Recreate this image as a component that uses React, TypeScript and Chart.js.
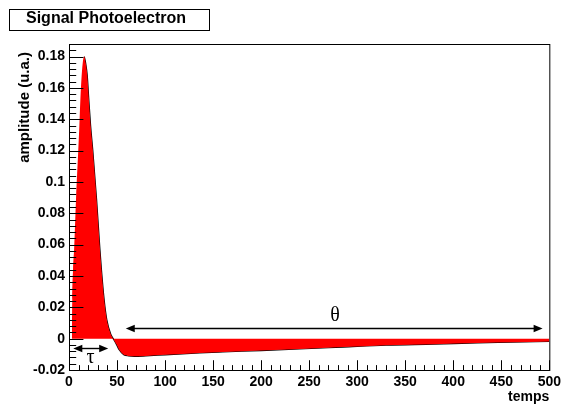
import React, { useEffect, useRef } from "react";
import { Chart, registerables } from "chart.js";

Chart.register(...registerables);

// ---- data ----
const TITLE = "Signal Photoelectron";
const X_TITLE = "temps";
const Y_TITLE = "amplitude (u.a.)";

const timeValues = [
  3, 3.4, 4.2, 5.4, 7.3, 9.7, 10.8, 11.8, 13.2, 14.5, 15.9, 17.3, 19.0, 20.7,
  22.5, 24.8, 28.7, 32.2, 33.8, 36.6, 39.4, 43.6, 46, 49.5, 52.2, 57, 62, 68,
  80, 100, 136, 160, 200, 240, 285, 330, 380, 425, 460, 500,
];
const amplitudeValues = [
  0, 0.025, 0.044, 0.058, 0.089, 0.121, 0.136, 0.152, 0.168, 0.177, 0.18,
  0.176, 0.168, 0.152, 0.136, 0.12, 0.089, 0.057, 0.044, 0.025, 0.012, 0.0026,
  0, -0.0038, -0.007, -0.0102, -0.011, -0.0113, -0.011, -0.0103, -0.0091,
  -0.0085, -0.0076, -0.0066, -0.0054, -0.0042, -0.0035, -0.0027, -0.0023,
  -0.0018,
];
const PEAK_TIME = 15.9;

const X_MIN = 0;
const X_MAX = 500;
const X_STEP = 50;
const Y_MIN = -0.02;
const Y_MAX = 0.188;
const Y_STEP = 0.02;

// annotations (data coordinates)
const tauArrow = { from: 4.5, to: 40.8, y: -0.0057 };
const tauLabel = { text: "τ", x: 22.5, y: -0.0157 };
const thetaArrow = { from: 59.1, to: 493, y: 0.0069 };
const thetaLabel = { text: "θ", x: 277, y: 0.011 };

const SANS = '"Liberation Sans", Arial, Helvetica, sans-serif';
const SERIF = '"Liberation Serif", "Times New Roman", serif';

function drawArrow(ctx: CanvasRenderingContext2D, x1: number, x2: number, y: number) {
  const head = 9;
  const half = 3.8;
  ctx.beginPath();
  ctx.moveTo(x1 + head - 1, y);
  ctx.lineTo(x2 - head + 1, y);
  ctx.lineWidth = 1.4;
  ctx.strokeStyle = "#000";
  ctx.stroke();
  ctx.fillStyle = "#000";
  ctx.beginPath();
  ctx.moveTo(x1, y);
  ctx.lineTo(x1 + head, y - half);
  ctx.lineTo(x1 + head, y + half);
  ctx.closePath();
  ctx.fill();
  ctx.beginPath();
  ctx.moveTo(x2, y);
  ctx.lineTo(x2 - head, y - half);
  ctx.lineTo(x2 - head, y + half);
  ctx.closePath();
  ctx.fill();
}

const rootStylePlugin = {
  id: "rootStyle",
  afterDraw(chart: any) {
    const ctx: CanvasRenderingContext2D = chart.ctx;
    const xs = chart.scales.x;
    const ys = chart.scales.y;
    const a = chart.chartArea;
    ctx.save();

    // ticks (inside the frame, ROOT style)
    ctx.strokeStyle = "#000";
    ctx.lineWidth = 1;
    const yMajor = 0.03 * (a.right - a.left);
    const xMajor = 0.03 * (a.bottom - a.top);
    const yMinorStep = Y_STEP / 5;
    const ny = Math.floor((Y_MAX - Y_MIN) / yMinorStep + 1e-6);
    ctx.beginPath();
    for (let k = 0; k <= ny; k++) {
      const v = Y_MIN + k * yMinorStep;
      const py = Math.round(ys.getPixelForValue(v)) + 0.5;
      const len = k % 5 === 0 ? yMajor : yMajor / 2;
      ctx.moveTo(a.left, py);
      ctx.lineTo(a.left + len, py);
    }
    const xMinorStep = X_STEP / 5;
    const nx = Math.floor((X_MAX - X_MIN) / xMinorStep + 1e-6);
    for (let k = 0; k <= nx; k++) {
      const v = X_MIN + k * xMinorStep;
      const px = Math.round(xs.getPixelForValue(v)) + 0.5;
      const len = k % 5 === 0 ? xMajor : xMajor / 2;
      ctx.moveTo(px, a.bottom);
      ctx.lineTo(px, a.bottom - len);
    }
    ctx.stroke();

    // frame
    ctx.strokeRect(a.left + 0.5, a.top + 0.5, a.right - a.left, a.bottom - a.top);

    // arrows
    drawArrow(ctx, xs.getPixelForValue(tauArrow.from), xs.getPixelForValue(tauArrow.to), Math.round(ys.getPixelForValue(tauArrow.y)) + 0.5);
    drawArrow(ctx, xs.getPixelForValue(thetaArrow.from), xs.getPixelForValue(thetaArrow.to), Math.round(ys.getPixelForValue(thetaArrow.y)) + 0.5);

    // greek labels
    ctx.fillStyle = "#000";
    ctx.font = `20px ${SERIF}`;
    ctx.textAlign = "center";
    ctx.textBaseline = "alphabetic";
    ctx.fillText(tauLabel.text, xs.getPixelForValue(tauLabel.x), ys.getPixelForValue(tauLabel.y));
    ctx.fillText(thetaLabel.text, xs.getPixelForValue(thetaLabel.x), ys.getPixelForValue(thetaLabel.y));

    // axis titles
    ctx.font = `bold 14px ${SANS}`;
    ctx.textAlign = "right";
    ctx.fillText(X_TITLE, a.right, 401);
    ctx.save();
    ctx.translate(29, a.top + 8);
    ctx.rotate(-Math.PI / 2);
    ctx.font = `bold 15px ${SANS}`;
    ctx.textAlign = "right";
    ctx.fillText(Y_TITLE, 0, 0);
    ctx.restore();

    // title box
    ctx.fillStyle = "#fff";
    ctx.fillRect(9.5, 9.5, 200, 21);
    ctx.strokeStyle = "#000";
    ctx.lineWidth = 1;
    ctx.strokeRect(9.5, 9.5, 200, 21);
    ctx.fillStyle = "#000";
    ctx.font = `bold 16px ${SANS}`;
    ctx.textAlign = "left";
    ctx.fillText(TITLE, 26, 23);

    ctx.restore();
  },
};

export default function App() {
  const canvasRef = useRef<HTMLCanvasElement | null>(null);

  useEffect(() => {
    document.body.style.margin = "0";
    const canvas = canvasRef.current;
    if (!canvas) return;
    Chart.defaults.font.family = SANS;
    Chart.defaults.color = "#000";

    const points = timeValues.map((t, i) => ({ x: t, y: amplitudeValues[i] }));
    const outline = points.filter((p) => p.x >= PEAK_TIME);

    const chart = new Chart(canvas, {
      type: "line",
      data: {
        datasets: [
          {
            data: points,
            fill: "origin",
            backgroundColor: "#ff0000",
            borderColor: "rgba(0,0,0,0)",
            borderWidth: 0,
            pointRadius: 0,
            cubicInterpolationMode: "monotone",
          },
          {
            data: outline,
            fill: false,
            borderColor: "#000",
            borderWidth: 1.2,
            pointRadius: 0,
            cubicInterpolationMode: "monotone",
          },
        ],
      },
      options: {
        animation: false,
        responsive: false,
        maintainAspectRatio: false,
        layout: { padding: { left: 0, top: 44, right: 14, bottom: 0 } },
        plugins: {
          legend: { display: false },
          tooltip: { enabled: false },
          title: { display: false },
        },
        scales: {
          x: {
            type: "linear",
            min: X_MIN,
            max: X_MAX,
            grid: { display: false, drawTicks: false },
            border: { display: false },
            ticks: {
              stepSize: X_STEP,
              autoSkip: false,
              maxRotation: 0,
              padding: 4,
              color: "#000",
              font: { family: SANS, size: 14, weight: "bold" },
              callback: (v: any) => String(v),
            },
            afterFit: (s: any) => {
              s.height = 37;
            },
          },
          y: {
            type: "linear",
            min: Y_MIN,
            max: Y_MAX,
            grid: { display: false, drawTicks: false },
            border: { display: false },
            ticks: {
              stepSize: Y_STEP,
              includeBounds: false,
              padding: 4,
              color: "#000",
              font: { family: SANS, size: 14, weight: "bold" },
              callback: (v: any) => String(Number(Number(v).toFixed(4))),
            },
            afterFit: (s: any) => {
              s.width = 69;
            },
          },
        },
      },
      plugins: [rootStylePlugin],
    });

    return () => chart.destroy();
  }, []);

  return (
    <div style={{ width: 565, height: 407, background: "#fff" }}>
      <canvas ref={canvasRef} width={565} height={407} style={{ display: "block" }} />
    </div>
  );
}
